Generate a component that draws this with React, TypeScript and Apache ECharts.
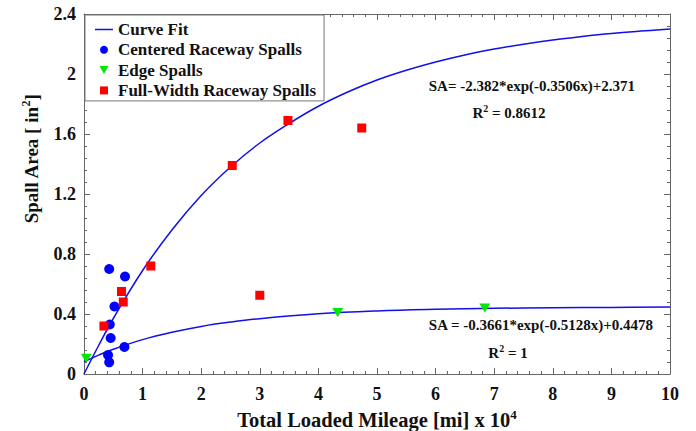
import React, { useEffect, useRef } from "react";
import * as echarts from "echarts";

const FONT = "'Liberation Serif', 'Times New Roman', serif";

// Centered raceway spalls
const centeredX = [0.43, 0.70, 0.52, 0.44, 0.455, 0.69, 0.41, 0.43];
const centeredY = [0.70, 0.65, 0.45, 0.33, 0.24, 0.18, 0.126, 0.078];
// Edge spalls
const edgeX = [0.04, 4.33, 6.84];
const edgeY = [0.105, 0.41, 0.44];
// Full-width raceway spalls
const fullX = [1.14, 0.64, 0.67, 0.34, 2.53, 3.48, 4.74, 3.0];
const fullY = [0.72, 0.55, 0.48, 0.32, 1.39, 1.69, 1.64, 0.525];
// Curve fit 1 (full-width)
const fit1X = [0, 0.25, 0.5, 1, 1.5, 2, 2.5, 3, 3.5, 4, 4.5, 5, 5.5, 6, 6.5, 7, 7.5, 8, 8.5, 9, 9.5, 10];
const fit1Y = [0, 0.19, 0.37, 0.69, 0.96, 1.19, 1.38, 1.54, 1.67, 1.785, 1.88, 1.96, 2.025, 2.08, 2.127, 2.166, 2.199, 2.227, 2.25, 2.27, 2.286, 2.30];
// Curve fit 2 (edge)
const fit2X = [0, 0.25, 0.5, 1, 1.5, 2, 2.5, 3, 4, 5, 6, 7, 8, 9, 10];
const fit2Y = [0.082, 0.126, 0.165, 0.229, 0.278, 0.317, 0.346, 0.369, 0.401, 0.42, 0.431, 0.438, 0.442, 0.444, 0.446];

const xTicks = { min: 0, max: 10, interval: 1 };
const yTicks = { min: 0, max: 2.4, interval: 0.4 };

const zip = (xs: number[], ys: number[]) => xs.map((x, i) => [x, ys[i]]);

export default function App() {
  const ref = useRef<HTMLDivElement>(null);
  useEffect(() => {
    if (!ref.current) return;
    const chart = echarts.init(ref.current, null, { renderer: "svg" });
    const axisCommon = {
      type: "value" as const,
      axisLine: { show: true, onZero: false, lineStyle: { color: "#666", width: 1 } },
      axisTick: { show: true, inside: true, length: 6, lineStyle: { color: "#666" } },
      minorTick: { show: true, splitNumber: 5, length: 3, lineStyle: { color: "#666" } },
      splitLine: { show: false },
    };
    const labelStyle = {
      fontFamily: FONT,
      fontWeight: "bold" as const,
      fontSize: 18,
      color: "#111",
    };
    const fmt = (v: number) => String(Math.round(v * 10) / 10);
    const supStyle = (size: number, pad: number) => ({
      fontFamily: FONT,
      fontWeight: "bold" as const,
      fontSize: size,
      fill: "#111",
      padding: [0, 0, pad, 0],
    });
    const curveStyle = { color: "#1010e8", width: 1.5 };
    chart.setOption({
      animation: false,
      backgroundColor: "#fff",
      grid: { left: 84, right: 26, top: 14, bottom: 57, containLabel: false },
      xAxis: [
        { ...axisCommon, ...xTicks, position: "bottom", axisLabel: { ...labelStyle, margin: 11, formatter: fmt } },
        { ...axisCommon, ...xTicks, position: "top", axisLabel: { show: false } },
      ],
      yAxis: [
        { ...axisCommon, ...yTicks, position: "left", axisLabel: { ...labelStyle, margin: 8, formatter: fmt } },
        { ...axisCommon, ...yTicks, position: "right", axisLabel: { show: false } },
      ],
      legend: {
        orient: "vertical",
        left: 85,
        top: 15,
        padding: [6, 8, 2, 10],
        itemWidth: 18,
        itemHeight: 8,
        itemGap: 3.3,
        symbolKeepAspect: true,
        backgroundColor: "#fff",
        borderColor: "#777",
        borderWidth: 1,
        textStyle: { fontFamily: FONT, fontWeight: "bold", fontSize: 17, color: "#111" },
        data: [
          { name: "Curve Fit", icon: "path://M0,0H18V1.5H0Z" },
          { name: "Centered Raceway Spalls", icon: "circle" },
          { name: "Edge Spalls", icon: "path://M0,0L10,0L5,9Z" },
          { name: "Full-Width Raceway Spalls", icon: "path://M0,0H10V10H0Z" },
        ],
      },
      series: [
        {
          name: "Curve Fit",
          type: "line",
          data: zip(fit1X, fit1Y),
          smooth: 0.4,
          symbol: "none",
          lineStyle: curveStyle,
          itemStyle: { color: curveStyle.color },
          z: 2,
        },
        {
          name: "Curve Fit",
          type: "line",
          data: zip(fit2X, fit2Y),
          smooth: 0.4,
          symbol: "none",
          lineStyle: curveStyle,
          itemStyle: { color: curveStyle.color },
          z: 2,
        },
        {
          name: "Centered Raceway Spalls",
          type: "scatter",
          data: zip(centeredX, centeredY),
          symbol: "circle",
          symbolSize: 10,
          itemStyle: { color: "#0000ff", opacity: 1 },
          z: 3,
        },
        {
          name: "Edge Spalls",
          type: "scatter",
          data: zip(edgeX, edgeY),
          symbol: "path://M0,0L10,0L5,9Z",
          symbolSize: [11, 9],
          itemStyle: { color: "#00e600", opacity: 1 },
          z: 3,
        },
        {
          name: "Full-Width Raceway Spalls",
          type: "scatter",
          data: zip(fullX, fullY),
          symbol: "rect",
          symbolSize: 9,
          itemStyle: { color: "#ff0000", opacity: 1 },
          z: 3,
        },
      ],
      graphic: [
        {
          type: "text",
          x: 377,
          y: 420,
          style: {
            text: "Total Loaded Mileage [mi] x 10{sup|4}",
            fontFamily: FONT,
            fontWeight: "bold",
            fontSize: 20.5,
            fill: "#111",
            align: "center",
            verticalAlign: "middle",
            rich: { sup: supStyle(13, 11) },
          },
        },
        {
          type: "text",
          x: 31,
          y: 159,
          rotation: Math.PI / 2,
          style: {
            text: "Spall Area [ in{sup|2}]",
            fontFamily: FONT,
            fontWeight: "bold",
            fontSize: 19,
            fill: "#111",
            align: "center",
            verticalAlign: "middle",
            rich: { sup: supStyle(12, 11) },
          },
        },
        {
          type: "text",
          x: 635,
          y: 86,
          style: {
            text: "SA= -2.382*exp(-0.3506x)+2.371",
            fontFamily: FONT,
            fontWeight: "bold",
            fontSize: 15,
            fill: "#111",
            align: "right",
            verticalAlign: "middle",
          },
        },
        {
          type: "text",
          x: 509,
          y: 113,
          style: {
            text: "R{sup|2} = 0.8612",
            fontFamily: FONT,
            fontWeight: "bold",
            fontSize: 15,
            fill: "#111",
            align: "center",
            verticalAlign: "middle",
            rich: { sup: supStyle(10, 10) },
          },
        },
        {
          type: "text",
          x: 653,
          y: 325,
          style: {
            text: "SA = -0.3661*exp(-0.5128x)+0.4478",
            fontFamily: FONT,
            fontWeight: "bold",
            fontSize: 15,
            fill: "#111",
            align: "right",
            verticalAlign: "middle",
          },
        },
        {
          type: "text",
          x: 508,
          y: 353,
          style: {
            text: "R{sup|2} = 1",
            fontFamily: FONT,
            fontWeight: "bold",
            fontSize: 15,
            fill: "#111",
            align: "center",
            verticalAlign: "middle",
            rich: { sup: supStyle(10, 10) },
          },
        },
      ],
    });
    return () => chart.dispose();
  }, []);
  return <div ref={ref} style={{ width: 696, height: 431, position: "absolute", left: 0, top: 0 }} />;
}
